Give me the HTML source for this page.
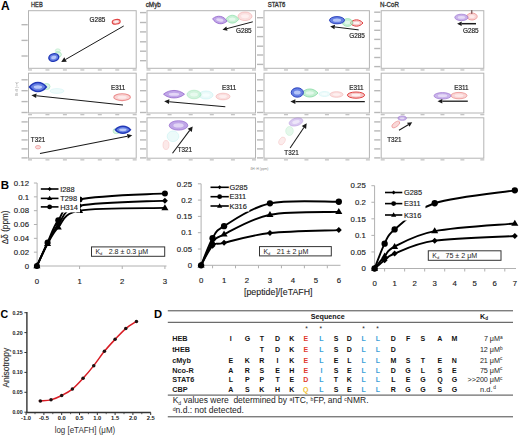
<!DOCTYPE html>
<html><head><meta charset="utf-8"><style>
html,body{margin:0;padding:0;background:#fff;}
body{width:520px;height:436px;overflow:hidden;font-family:"Liberation Sans",sans-serif;}
svg{display:block;}
</style></head><body>
<svg width="520" height="436" viewBox="0 0 520 436" font-family="Liberation Sans, sans-serif"><defs><filter id="bl" x="-10%" y="-10%" width="120%" height="120%"><feGaussianBlur stdDeviation="0.35"/></filter></defs><text x="0.90" y="10.20" font-size="12" fill="#000" font-weight="bold" text-anchor="start" >A</text>
<text x="31.00" y="7.00" font-size="6.6" fill="#333" font-weight="normal" text-anchor="start" stroke="#333" stroke-width="0.3" textLength="11.7" lengthAdjust="spacingAndGlyphs">HEB</text>
<text x="145.70" y="7.00" font-size="6.6" fill="#333" font-weight="normal" text-anchor="start" stroke="#333" stroke-width="0.3" textLength="15.2" lengthAdjust="spacingAndGlyphs">cMyb</text>
<text x="267.70" y="7.00" font-size="6.6" fill="#333" font-weight="normal" text-anchor="start" stroke="#333" stroke-width="0.3" textLength="17.7" lengthAdjust="spacingAndGlyphs">STAT6</text>
<text x="380.00" y="7.00" font-size="6.6" fill="#333" font-weight="normal" text-anchor="start" stroke="#333" stroke-width="0.3" textLength="19.0" lengthAdjust="spacingAndGlyphs">N-CoR</text>
<rect x="28.50" y="10.70" width="107.70" height="57.60" fill="#fff" stroke="#b4b4b4" stroke-width="1"/>
<rect x="21.50" y="24.00" width="6.2" height="1.4" fill="#b8b8b8"/>
<rect x="21.50" y="39.70" width="6.2" height="1.4" fill="#b8b8b8"/>
<rect x="21.50" y="55.30" width="6.2" height="1.4" fill="#b8b8b8"/>
<rect x="28.00" y="69.30" width="4" height="1.3" fill="#c4c4c4"/>
<rect x="45.45" y="69.30" width="4" height="1.3" fill="#c4c4c4"/>
<rect x="62.90" y="69.30" width="4" height="1.3" fill="#c4c4c4"/>
<rect x="80.35" y="69.30" width="4" height="1.3" fill="#c4c4c4"/>
<rect x="97.80" y="69.30" width="4" height="1.3" fill="#c4c4c4"/>
<rect x="115.25" y="69.30" width="4" height="1.3" fill="#c4c4c4"/>
<rect x="132.70" y="69.30" width="4" height="1.3" fill="#c4c4c4"/>
<rect x="28.50" y="73.20" width="107.70" height="39.80" fill="#fff" stroke="#b4b4b4" stroke-width="1"/>
<rect x="21.50" y="79.10" width="6.2" height="1.4" fill="#b8b8b8"/>
<rect x="21.50" y="90.00" width="6.2" height="1.4" fill="#b8b8b8"/>
<rect x="21.50" y="100.90" width="6.2" height="1.4" fill="#b8b8b8"/>
<rect x="21.50" y="111.80" width="6.2" height="1.4" fill="#b8b8b8"/>
<rect x="28.00" y="114.00" width="4" height="1.3" fill="#c4c4c4"/>
<rect x="45.45" y="114.00" width="4" height="1.3" fill="#c4c4c4"/>
<rect x="62.90" y="114.00" width="4" height="1.3" fill="#c4c4c4"/>
<rect x="80.35" y="114.00" width="4" height="1.3" fill="#c4c4c4"/>
<rect x="97.80" y="114.00" width="4" height="1.3" fill="#c4c4c4"/>
<rect x="115.25" y="114.00" width="4" height="1.3" fill="#c4c4c4"/>
<rect x="132.70" y="114.00" width="4" height="1.3" fill="#c4c4c4"/>
<rect x="28.50" y="117.80" width="107.70" height="40.40" fill="#fff" stroke="#b4b4b4" stroke-width="1"/>
<rect x="21.50" y="121.20" width="6.2" height="1.4" fill="#b8b8b8"/>
<rect x="21.50" y="130.20" width="6.2" height="1.4" fill="#b8b8b8"/>
<rect x="21.50" y="139.20" width="6.2" height="1.4" fill="#b8b8b8"/>
<rect x="21.50" y="148.20" width="6.2" height="1.4" fill="#b8b8b8"/>
<rect x="21.50" y="157.20" width="6.2" height="1.4" fill="#b8b8b8"/>
<rect x="28.00" y="159.20" width="4" height="1.3" fill="#c4c4c4"/>
<rect x="45.45" y="159.20" width="4" height="1.3" fill="#c4c4c4"/>
<rect x="62.90" y="159.20" width="4" height="1.3" fill="#c4c4c4"/>
<rect x="80.35" y="159.20" width="4" height="1.3" fill="#c4c4c4"/>
<rect x="97.80" y="159.20" width="4" height="1.3" fill="#c4c4c4"/>
<rect x="115.25" y="159.20" width="4" height="1.3" fill="#c4c4c4"/>
<rect x="132.70" y="159.20" width="4" height="1.3" fill="#c4c4c4"/>
<rect x="147.00" y="10.70" width="108.50" height="57.60" fill="#fff" stroke="#b4b4b4" stroke-width="1"/>
<rect x="140.00" y="11.90" width="6.2" height="1.4" fill="#b8b8b8"/>
<rect x="140.00" y="21.80" width="6.2" height="1.4" fill="#b8b8b8"/>
<rect x="140.00" y="31.20" width="6.2" height="1.4" fill="#b8b8b8"/>
<rect x="140.00" y="41.10" width="6.2" height="1.4" fill="#b8b8b8"/>
<rect x="140.00" y="50.50" width="6.2" height="1.4" fill="#b8b8b8"/>
<rect x="140.00" y="60.00" width="6.2" height="1.4" fill="#b8b8b8"/>
<rect x="146.50" y="69.30" width="4" height="1.3" fill="#c4c4c4"/>
<rect x="167.60" y="69.30" width="4" height="1.3" fill="#c4c4c4"/>
<rect x="188.70" y="69.30" width="4" height="1.3" fill="#c4c4c4"/>
<rect x="209.80" y="69.30" width="4" height="1.3" fill="#c4c4c4"/>
<rect x="230.90" y="69.30" width="4" height="1.3" fill="#c4c4c4"/>
<rect x="252.00" y="69.30" width="4" height="1.3" fill="#c4c4c4"/>
<rect x="147.00" y="73.20" width="108.50" height="39.80" fill="#fff" stroke="#b4b4b4" stroke-width="1"/>
<rect x="140.00" y="79.10" width="6.2" height="1.4" fill="#b8b8b8"/>
<rect x="140.00" y="90.00" width="6.2" height="1.4" fill="#b8b8b8"/>
<rect x="140.00" y="100.90" width="6.2" height="1.4" fill="#b8b8b8"/>
<rect x="140.00" y="111.80" width="6.2" height="1.4" fill="#b8b8b8"/>
<rect x="146.50" y="114.00" width="4" height="1.3" fill="#c4c4c4"/>
<rect x="167.60" y="114.00" width="4" height="1.3" fill="#c4c4c4"/>
<rect x="188.70" y="114.00" width="4" height="1.3" fill="#c4c4c4"/>
<rect x="209.80" y="114.00" width="4" height="1.3" fill="#c4c4c4"/>
<rect x="230.90" y="114.00" width="4" height="1.3" fill="#c4c4c4"/>
<rect x="252.00" y="114.00" width="4" height="1.3" fill="#c4c4c4"/>
<rect x="147.00" y="117.80" width="108.50" height="40.40" fill="#fff" stroke="#b4b4b4" stroke-width="1"/>
<rect x="140.00" y="121.20" width="6.2" height="1.4" fill="#b8b8b8"/>
<rect x="140.00" y="130.20" width="6.2" height="1.4" fill="#b8b8b8"/>
<rect x="140.00" y="139.20" width="6.2" height="1.4" fill="#b8b8b8"/>
<rect x="140.00" y="148.20" width="6.2" height="1.4" fill="#b8b8b8"/>
<rect x="140.00" y="157.20" width="6.2" height="1.4" fill="#b8b8b8"/>
<rect x="146.50" y="159.20" width="4" height="1.3" fill="#c4c4c4"/>
<rect x="167.60" y="159.20" width="4" height="1.3" fill="#c4c4c4"/>
<rect x="188.70" y="159.20" width="4" height="1.3" fill="#c4c4c4"/>
<rect x="209.80" y="159.20" width="4" height="1.3" fill="#c4c4c4"/>
<rect x="230.90" y="159.20" width="4" height="1.3" fill="#c4c4c4"/>
<rect x="252.00" y="159.20" width="4" height="1.3" fill="#c4c4c4"/>
<rect x="264.00" y="10.70" width="105.40" height="57.60" fill="#fff" stroke="#b4b4b4" stroke-width="1"/>
<rect x="257.00" y="17.00" width="6.2" height="1.4" fill="#b8b8b8"/>
<rect x="257.00" y="26.60" width="6.2" height="1.4" fill="#b8b8b8"/>
<rect x="257.00" y="35.90" width="6.2" height="1.4" fill="#b8b8b8"/>
<rect x="257.00" y="45.50" width="6.2" height="1.4" fill="#b8b8b8"/>
<rect x="257.00" y="54.30" width="6.2" height="1.4" fill="#b8b8b8"/>
<rect x="257.00" y="63.70" width="6.2" height="1.4" fill="#b8b8b8"/>
<rect x="263.50" y="69.30" width="4" height="1.3" fill="#c4c4c4"/>
<rect x="283.98" y="69.30" width="4" height="1.3" fill="#c4c4c4"/>
<rect x="304.46" y="69.30" width="4" height="1.3" fill="#c4c4c4"/>
<rect x="324.94" y="69.30" width="4" height="1.3" fill="#c4c4c4"/>
<rect x="345.42" y="69.30" width="4" height="1.3" fill="#c4c4c4"/>
<rect x="365.90" y="69.30" width="4" height="1.3" fill="#c4c4c4"/>
<rect x="264.00" y="73.20" width="105.40" height="39.80" fill="#fff" stroke="#b4b4b4" stroke-width="1"/>
<rect x="257.00" y="79.10" width="6.2" height="1.4" fill="#b8b8b8"/>
<rect x="257.00" y="90.00" width="6.2" height="1.4" fill="#b8b8b8"/>
<rect x="257.00" y="100.90" width="6.2" height="1.4" fill="#b8b8b8"/>
<rect x="257.00" y="111.80" width="6.2" height="1.4" fill="#b8b8b8"/>
<rect x="263.50" y="114.00" width="4" height="1.3" fill="#c4c4c4"/>
<rect x="283.98" y="114.00" width="4" height="1.3" fill="#c4c4c4"/>
<rect x="304.46" y="114.00" width="4" height="1.3" fill="#c4c4c4"/>
<rect x="324.94" y="114.00" width="4" height="1.3" fill="#c4c4c4"/>
<rect x="345.42" y="114.00" width="4" height="1.3" fill="#c4c4c4"/>
<rect x="365.90" y="114.00" width="4" height="1.3" fill="#c4c4c4"/>
<rect x="264.00" y="117.80" width="105.40" height="40.40" fill="#fff" stroke="#b4b4b4" stroke-width="1"/>
<rect x="257.00" y="121.20" width="6.2" height="1.4" fill="#b8b8b8"/>
<rect x="257.00" y="130.20" width="6.2" height="1.4" fill="#b8b8b8"/>
<rect x="257.00" y="139.20" width="6.2" height="1.4" fill="#b8b8b8"/>
<rect x="257.00" y="148.20" width="6.2" height="1.4" fill="#b8b8b8"/>
<rect x="257.00" y="157.20" width="6.2" height="1.4" fill="#b8b8b8"/>
<rect x="263.50" y="159.20" width="4" height="1.3" fill="#c4c4c4"/>
<rect x="283.98" y="159.20" width="4" height="1.3" fill="#c4c4c4"/>
<rect x="304.46" y="159.20" width="4" height="1.3" fill="#c4c4c4"/>
<rect x="324.94" y="159.20" width="4" height="1.3" fill="#c4c4c4"/>
<rect x="345.42" y="159.20" width="4" height="1.3" fill="#c4c4c4"/>
<rect x="365.90" y="159.20" width="4" height="1.3" fill="#c4c4c4"/>
<rect x="381.20" y="10.70" width="102.60" height="57.60" fill="#fff" stroke="#b4b4b4" stroke-width="1"/>
<rect x="374.20" y="11.50" width="6.2" height="1.4" fill="#b8b8b8"/>
<rect x="374.20" y="20.60" width="6.2" height="1.4" fill="#b8b8b8"/>
<rect x="374.20" y="29.60" width="6.2" height="1.4" fill="#b8b8b8"/>
<rect x="374.20" y="38.70" width="6.2" height="1.4" fill="#b8b8b8"/>
<rect x="374.20" y="47.80" width="6.2" height="1.4" fill="#b8b8b8"/>
<rect x="374.20" y="56.80" width="6.2" height="1.4" fill="#b8b8b8"/>
<rect x="374.20" y="65.90" width="6.2" height="1.4" fill="#b8b8b8"/>
<rect x="380.70" y="69.30" width="4" height="1.3" fill="#c4c4c4"/>
<rect x="400.62" y="69.30" width="4" height="1.3" fill="#c4c4c4"/>
<rect x="420.54" y="69.30" width="4" height="1.3" fill="#c4c4c4"/>
<rect x="440.46" y="69.30" width="4" height="1.3" fill="#c4c4c4"/>
<rect x="460.38" y="69.30" width="4" height="1.3" fill="#c4c4c4"/>
<rect x="480.30" y="69.30" width="4" height="1.3" fill="#c4c4c4"/>
<rect x="381.20" y="73.20" width="102.60" height="39.80" fill="#fff" stroke="#b4b4b4" stroke-width="1"/>
<rect x="374.20" y="79.10" width="6.2" height="1.4" fill="#b8b8b8"/>
<rect x="374.20" y="90.00" width="6.2" height="1.4" fill="#b8b8b8"/>
<rect x="374.20" y="100.90" width="6.2" height="1.4" fill="#b8b8b8"/>
<rect x="374.20" y="111.80" width="6.2" height="1.4" fill="#b8b8b8"/>
<rect x="380.70" y="114.00" width="4" height="1.3" fill="#c4c4c4"/>
<rect x="400.62" y="114.00" width="4" height="1.3" fill="#c4c4c4"/>
<rect x="420.54" y="114.00" width="4" height="1.3" fill="#c4c4c4"/>
<rect x="440.46" y="114.00" width="4" height="1.3" fill="#c4c4c4"/>
<rect x="460.38" y="114.00" width="4" height="1.3" fill="#c4c4c4"/>
<rect x="480.30" y="114.00" width="4" height="1.3" fill="#c4c4c4"/>
<rect x="381.20" y="117.80" width="102.60" height="40.40" fill="#fff" stroke="#b4b4b4" stroke-width="1"/>
<rect x="374.20" y="121.20" width="6.2" height="1.4" fill="#b8b8b8"/>
<rect x="374.20" y="130.20" width="6.2" height="1.4" fill="#b8b8b8"/>
<rect x="374.20" y="139.20" width="6.2" height="1.4" fill="#b8b8b8"/>
<rect x="374.20" y="148.20" width="6.2" height="1.4" fill="#b8b8b8"/>
<rect x="374.20" y="157.20" width="6.2" height="1.4" fill="#b8b8b8"/>
<rect x="380.70" y="159.20" width="4" height="1.3" fill="#c4c4c4"/>
<rect x="400.62" y="159.20" width="4" height="1.3" fill="#c4c4c4"/>
<rect x="420.54" y="159.20" width="4" height="1.3" fill="#c4c4c4"/>
<rect x="440.46" y="159.20" width="4" height="1.3" fill="#c4c4c4"/>
<rect x="460.38" y="159.20" width="4" height="1.3" fill="#c4c4c4"/>
<rect x="480.30" y="159.20" width="4" height="1.3" fill="#c4c4c4"/>
<g filter="url(#bl)">
<g opacity="0.35">
<ellipse cx="57.80" cy="50.50" rx="2.50" ry="1.60" fill="#b4ecc6" stroke="#58cc80" stroke-width="0.9"/>
</g>
<g opacity="0.45">
<ellipse cx="57.80" cy="54.50" rx="3.60" ry="2.60" fill="#b4ecc6" stroke="#58cc80" stroke-width="0.9"/>
</g>
<g opacity="1.0" transform="rotate(-12 53.80 57.50)">
<ellipse cx="53.80" cy="57.50" rx="5.00" ry="3.70" fill="#6680e4" stroke="#2038b8" stroke-width="1.4"/>
<ellipse cx="53.80" cy="57.50" rx="2.75" ry="1.67" fill="#d0dcff" opacity="0.75"/>
</g>
<g opacity="1.0" transform="rotate(-8 116.20 21.80)">
<ellipse cx="116.20" cy="21.80" rx="4.00" ry="2.30" fill="#f6c4c4" stroke="#e04444" stroke-width="1.1"/>
<ellipse cx="116.20" cy="21.80" rx="2.20" ry="1.03" fill="#ffffff" opacity="0.75"/>
</g>
<g opacity="0.45">
<ellipse cx="57.00" cy="91.00" rx="7.00" ry="2.40" fill="#dcf6f6" stroke="#90e4e4" stroke-width="0.5"/>
</g>
<g opacity="0.45">
<ellipse cx="46.50" cy="86.50" rx="3.50" ry="3.00" fill="#b4ecc6" stroke="#58cc80" stroke-width="0.9"/>
</g>
<g opacity="1.0"><path d="M29.50,87.00 C34.12,81.00 41.68,81.00 46.30,87.00 C41.68,93.00 34.12,93.00 29.50,87.00Z" fill="#6680e4" stroke="#2038b8" stroke-width="1.6"/>
<ellipse cx="37.90" cy="87.00" rx="4.20" ry="1.82" fill="#d0dcff" opacity="0.8"/>
</g>
<g opacity="1.0">
<ellipse cx="122.10" cy="97.20" rx="8.30" ry="3.40" fill="#f9d4d4" stroke="#ec9090" stroke-width="1.1"/>
<ellipse cx="122.10" cy="97.20" rx="4.57" ry="1.53" fill="#fff2f2" opacity="0.75"/>
</g>
<g opacity="0.8">
<ellipse cx="38.00" cy="147.20" rx="2.60" ry="1.70" fill="#f9d4d4" stroke="#ec9090" stroke-width="0.9"/>
</g>
<g opacity="0.45">
<ellipse cx="116.50" cy="131.00" rx="3.50" ry="2.60" fill="#b4ecc6" stroke="#58cc80" stroke-width="0.9"/>
</g>
<g opacity="1.0"><path d="M115.40,129.80 C119.53,125.18 126.28,125.18 130.40,129.80 C126.28,134.43 119.53,134.43 115.40,129.80Z" fill="#6680e4" stroke="#2038b8" stroke-width="1.5"/>
<ellipse cx="122.90" cy="129.80" rx="3.75" ry="1.41" fill="#d0dcff" opacity="0.8"/>
</g>
<g opacity="0.75">
<ellipse cx="245.00" cy="16.30" rx="7.00" ry="4.30" fill="#f9d4d4" stroke="#ec9090" stroke-width="0.6"/>
<ellipse cx="245.00" cy="16.30" rx="3.85" ry="1.94" fill="#fff2f2" opacity="0.75"/>
</g>
<g opacity="0.75"><path d="M225.80,19.20 C229.38,13.95 235.23,13.95 238.80,19.20 C235.23,24.45 229.38,24.45 225.80,19.20Z" fill="#b4ecc6" stroke="#58cc80" stroke-width="0.6"/>
<ellipse cx="232.30" cy="19.20" rx="3.25" ry="1.60" fill="#e6fbee" opacity="0.8"/>
</g>
<g opacity="1.0" transform="rotate(10 219.80 20.00)"><path d="M212.50,20.00 C216.52,15.12 223.09,15.12 227.10,20.00 C223.09,24.88 216.52,24.88 212.50,20.00Z" fill="#c0a6e8" stroke="#9468cc" stroke-width="0.8"/>
<ellipse cx="219.80" cy="20.00" rx="3.65" ry="1.48" fill="#ece4fa" opacity="0.8"/>
</g>
<g opacity="0.75">
<ellipse cx="223.00" cy="96.50" rx="7.00" ry="3.30" fill="#f9d4d4" stroke="#ec9090" stroke-width="0.6"/>
<ellipse cx="223.00" cy="96.50" rx="3.85" ry="1.48" fill="#fff2f2" opacity="0.75"/>
</g>
<g opacity="0.6">
<ellipse cx="206.00" cy="95.00" rx="7.00" ry="4.00" fill="#dcf6f6" stroke="#90e4e4" stroke-width="0.5"/>
<ellipse cx="206.00" cy="95.00" rx="3.85" ry="1.80" fill="#f4ffff" opacity="0.75"/>
</g>
<g opacity="0.6">
<ellipse cx="194.00" cy="94.50" rx="7.00" ry="4.30" fill="#b4ecc6" stroke="#58cc80" stroke-width="0.5"/>
<ellipse cx="194.00" cy="94.50" rx="3.85" ry="1.94" fill="#e6fbee" opacity="0.75"/>
</g>
<g opacity="1.0"><path d="M163.50,94.20 C169.28,89.20 178.72,89.20 184.50,94.20 C178.72,99.20 169.28,99.20 163.50,94.20Z" fill="#c0a6e8" stroke="#9468cc" stroke-width="0.8"/>
<ellipse cx="174.00" cy="94.20" rx="5.25" ry="1.52" fill="#ece4fa" opacity="0.8"/>
</g>
<g opacity="0.5">
<ellipse cx="166.00" cy="145.00" rx="3.00" ry="4.50" fill="#f9d4d4" stroke="#ec9090" stroke-width="0.6"/>
</g>
<g opacity="0.55">
<ellipse cx="173.00" cy="136.30" rx="5.80" ry="5.30" fill="#dcf6f6" stroke="#90e4e4" stroke-width="0.5"/>
</g>
<g opacity="1.0">
<ellipse cx="178.50" cy="125.40" rx="9.30" ry="4.70" fill="#c0a6e8" stroke="#9468cc" stroke-width="0.7"/>
<ellipse cx="178.50" cy="125.40" rx="5.12" ry="2.12" fill="#ece4fa" opacity="0.75"/>
</g>
<g opacity="1.0"><path d="M350.00,23.00 C353.57,18.75 359.43,18.75 363.00,23.00 C359.43,27.25 353.57,27.25 350.00,23.00Z" fill="#f6c4c4" stroke="#e04444" stroke-width="1.0"/>
<ellipse cx="356.50" cy="23.00" rx="3.25" ry="1.29" fill="#ffffff" opacity="0.8"/>
</g>
<g opacity="0.75">
<ellipse cx="347.50" cy="22.50" rx="5.20" ry="3.90" fill="#b4ecc6" stroke="#58cc80" stroke-width="0.6"/>
<ellipse cx="347.50" cy="22.50" rx="2.86" ry="1.75" fill="#e6fbee" opacity="0.75"/>
</g>
<g opacity="1.0">
<ellipse cx="337.00" cy="20.20" rx="7.50" ry="3.60" fill="#6680e4" stroke="#2038b8" stroke-width="0.9"/>
<ellipse cx="337.00" cy="20.20" rx="4.12" ry="1.62" fill="#d0dcff" opacity="0.75"/>
</g>
<g opacity="1.0">
<ellipse cx="356.00" cy="95.10" rx="8.60" ry="3.10" fill="#f6c4c4" stroke="#e04444" stroke-width="1.0"/>
<ellipse cx="356.00" cy="95.10" rx="4.73" ry="1.40" fill="#ffffff" opacity="0.75"/>
</g>
<g opacity="0.7">
<ellipse cx="336.50" cy="94.50" rx="6.50" ry="2.80" fill="#f9d4d4" stroke="#ec9090" stroke-width="0.6"/>
<ellipse cx="336.50" cy="94.50" rx="3.58" ry="1.26" fill="#fff2f2" opacity="0.75"/>
</g>
<g opacity="0.5">
<ellipse cx="324.50" cy="94.00" rx="5.50" ry="2.50" fill="#dcf6f6" stroke="#90e4e4" stroke-width="0.5"/>
<ellipse cx="324.50" cy="94.00" rx="3.03" ry="1.12" fill="#f4ffff" opacity="0.75"/>
</g>
<g opacity="0.8"><path d="M301.60,93.00 C306.11,87.62 313.49,87.62 318.00,93.00 C313.49,98.38 306.11,98.38 301.60,93.00Z" fill="#b4ecc6" stroke="#58cc80" stroke-width="0.7"/>
<ellipse cx="309.80" cy="93.00" rx="4.10" ry="1.63" fill="#e6fbee" opacity="0.8"/>
</g>
<g opacity="1.0">
<ellipse cx="297.30" cy="92.50" rx="6.10" ry="4.70" fill="#6680e4" stroke="#2038b8" stroke-width="0.9"/>
<ellipse cx="297.30" cy="92.50" rx="3.35" ry="2.12" fill="#d0dcff" opacity="0.75"/>
</g>
<g opacity="0.45" transform="rotate(30 282.00 141.00)">
<ellipse cx="282.00" cy="141.00" rx="2.80" ry="4.20" fill="#f9d4d4" stroke="#ec9090" stroke-width="0.6"/>
</g>
<g opacity="0.35">
<ellipse cx="289.50" cy="131.00" rx="3.80" ry="4.50" fill="#b4ecc6" stroke="#58cc80" stroke-width="0.5"/>
</g>
<g opacity="0.6" transform="rotate(-15 296.00 122.00)">
<ellipse cx="296.00" cy="122.00" rx="7.00" ry="3.80" fill="#c0a6e8" stroke="#9468cc" stroke-width="0.6"/>
<ellipse cx="296.00" cy="122.00" rx="3.85" ry="1.71" fill="#ece4fa" opacity="0.75"/>
</g>
<g opacity="1.0">
<ellipse cx="472.00" cy="16.50" rx="5.20" ry="3.50" fill="#f9d4d4" stroke="#ec9090" stroke-width="0.8"/>
<ellipse cx="472.00" cy="16.50" rx="2.86" ry="1.57" fill="#fff2f2" opacity="0.75"/>
</g>
<g opacity="0.85">
<ellipse cx="461.40" cy="17.40" rx="6.60" ry="3.20" fill="#c0a6e8" stroke="#9468cc" stroke-width="0.8"/>
<ellipse cx="461.40" cy="17.40" rx="3.63" ry="1.44" fill="#ece4fa" opacity="0.75"/>
</g>
<g opacity="1.0">
<ellipse cx="459.00" cy="95.60" rx="8.00" ry="3.20" fill="#f9d4d4" stroke="#ec9090" stroke-width="0.8"/>
<ellipse cx="459.00" cy="95.60" rx="4.40" ry="1.44" fill="#fff2f2" opacity="0.75"/>
</g>
<g opacity="0.85">
<ellipse cx="442.50" cy="95.80" rx="8.50" ry="3.20" fill="#c0a6e8" stroke="#9468cc" stroke-width="0.8"/>
<ellipse cx="442.50" cy="95.80" rx="4.68" ry="1.44" fill="#ece4fa" opacity="0.75"/>
</g>
<g opacity="0.8">
<ellipse cx="402.20" cy="118.20" rx="4.20" ry="2.10" fill="#c0a6e8" stroke="#9468cc" stroke-width="0.7"/>
<ellipse cx="402.20" cy="118.20" rx="2.31" ry="0.95" fill="#ece4fa" opacity="0.75"/>
</g>
<g opacity="0.9" transform="rotate(-35 395.80 124.50)">
<ellipse cx="395.80" cy="124.50" rx="4.60" ry="2.20" fill="#f9d4d4" stroke="#ec9090" stroke-width="0.8"/>
</g>
</g>
<line x1="471.80" y1="10.20" x2="471.80" y2="13.80" stroke="#603030" stroke-width="1" />
<line x1="123.70" y1="26.00" x2="65.53" y2="59.50" stroke="#1a1a1a" stroke-width="1.0" />
<polygon points="61.20,62.00 64.28,57.34 66.78,61.67" fill="#1a1a1a"/>
<text x="89.60" y="21.60" font-size="7.2" fill="#262626" font-weight="normal" text-anchor="start" stroke="#262626" stroke-width="0.2" textLength="15.7" lengthAdjust="spacingAndGlyphs">G285</text>
<line x1="123.00" y1="105.00" x2="36.37" y2="95.83" stroke="#1a1a1a" stroke-width="1.05" />
<polygon points="31.40,95.30 36.61,93.54 36.13,98.11" fill="#1a1a1a"/>
<text x="111.00" y="90.40" font-size="7.2" fill="#262626" font-weight="normal" text-anchor="start" stroke="#262626" stroke-width="0.2" textLength="14.4" lengthAdjust="spacingAndGlyphs">E311</text>
<line x1="40.00" y1="153.40" x2="127.39" y2="136.26" stroke="#1a1a1a" stroke-width="1.05" />
<polygon points="132.30,135.30 127.86,138.62 126.93,133.91" fill="#1a1a1a"/>
<text x="30.80" y="142.20" font-size="7.2" fill="#262626" font-weight="normal" text-anchor="start" stroke="#262626" stroke-width="0.2" textLength="14.4" lengthAdjust="spacingAndGlyphs">T321</text>
<line x1="252.80" y1="21.80" x2="226.95" y2="28.63" stroke="#1a1a1a" stroke-width="1.0" />
<polygon points="222.50,29.80 226.36,26.40 227.53,30.85" fill="#1a1a1a"/>
<text x="236.00" y="33.20" font-size="7.2" fill="#262626" font-weight="normal" text-anchor="start" stroke="#262626" stroke-width="0.2" textLength="15.7" lengthAdjust="spacingAndGlyphs">G285</text>
<line x1="225.30" y1="106.70" x2="169.18" y2="101.65" stroke="#1a1a1a" stroke-width="1.05" />
<polygon points="164.20,101.20 169.40,99.26 168.96,104.04" fill="#1a1a1a"/>
<text x="222.00" y="90.20" font-size="7.2" fill="#262626" font-weight="normal" text-anchor="start" stroke="#262626" stroke-width="0.2" textLength="14.4" lengthAdjust="spacingAndGlyphs">E311</text>
<line x1="172.50" y1="153.20" x2="189.69" y2="130.39" stroke="#1a1a1a" stroke-width="1.05" />
<polygon points="192.70,126.40 191.77,131.96 187.61,128.83" fill="#1a1a1a"/>
<text x="177.70" y="151.80" font-size="7.2" fill="#262626" font-weight="normal" text-anchor="start" stroke="#262626" stroke-width="0.2" textLength="14.4" lengthAdjust="spacingAndGlyphs">T321</text>
<line x1="358.70" y1="29.90" x2="334.77" y2="26.96" stroke="#1a1a1a" stroke-width="1.0" />
<polygon points="330.20,26.40 335.05,24.68 334.49,29.24" fill="#1a1a1a"/>
<text x="349.20" y="37.80" font-size="7.2" fill="#262626" font-weight="normal" text-anchor="start" stroke="#262626" stroke-width="0.2" textLength="15.7" lengthAdjust="spacingAndGlyphs">G285</text>
<line x1="364.80" y1="101.60" x2="295.40" y2="101.60" stroke="#1a1a1a" stroke-width="1.05" />
<polygon points="290.40,101.60 295.40,99.20 295.40,104.00" fill="#1a1a1a"/>
<text x="349.20" y="89.60" font-size="7.2" fill="#262626" font-weight="normal" text-anchor="start" stroke="#262626" stroke-width="0.2" textLength="14.4" lengthAdjust="spacingAndGlyphs">E311</text>
<line x1="290.10" y1="148.00" x2="303.91" y2="127.45" stroke="#1a1a1a" stroke-width="1.05" />
<polygon points="306.70,123.30 306.07,128.90 301.75,126.00" fill="#1a1a1a"/>
<text x="284.30" y="154.90" font-size="7.2" fill="#262626" font-weight="normal" text-anchor="start" stroke="#262626" stroke-width="0.2" textLength="14.4" lengthAdjust="spacingAndGlyphs">T321</text>
<line x1="476.00" y1="23.70" x2="461.70" y2="23.70" stroke="#1a1a1a" stroke-width="1.5" />
<polygon points="457.10,23.70 461.70,21.40 461.70,26.00" fill="#1a1a1a"/>
<text x="463.00" y="32.70" font-size="7.2" fill="#262626" font-weight="normal" text-anchor="start" stroke="#262626" stroke-width="0.2" textLength="15.7" lengthAdjust="spacingAndGlyphs">G285</text>
<line x1="467.80" y1="101.20" x2="442.30" y2="101.20" stroke="#1a1a1a" stroke-width="1.3" />
<polygon points="437.50,101.20 442.30,98.90 442.30,103.50" fill="#1a1a1a"/>
<text x="454.20" y="90.30" font-size="7.2" fill="#262626" font-weight="normal" text-anchor="start" stroke="#262626" stroke-width="0.2" textLength="14.4" lengthAdjust="spacingAndGlyphs">E311</text>
<line x1="399.00" y1="130.30" x2="408.27" y2="124.68" stroke="#1a1a1a" stroke-width="1.05" />
<polygon points="412.20,122.30 409.51,126.74 407.02,122.63" fill="#1a1a1a"/>
<text x="387.20" y="142.10" font-size="7.2" fill="#262626" font-weight="normal" text-anchor="start" stroke="#262626" stroke-width="0.2" textLength="14.4" lengthAdjust="spacingAndGlyphs">T321</text>
<text x="17.80" y="96.00" font-size="2.7" fill="#888" font-weight="normal" text-anchor="start" transform="rotate(-90 17.8 96)" textLength="14" lengthAdjust="spacingAndGlyphs">δN ¹⁵N (ppm)</text>
<text x="250.40" y="169.80" font-size="2.7" fill="#888" font-weight="normal" text-anchor="start" textLength="18" lengthAdjust="spacingAndGlyphs">δH ¹H (ppm)</text>
<text x="0.80" y="188.80" font-size="11.5" fill="#000" font-weight="bold" text-anchor="start" >B</text>
<line x1="37.10" y1="183.02" x2="37.10" y2="266.00" stroke="#b0b0b0" stroke-width="1" />
<line x1="37.10" y1="266.00" x2="166.50" y2="266.00" stroke="#b0b0b0" stroke-width="1" />
<line x1="33.90" y1="266.00" x2="37.10" y2="266.00" stroke="#b0b0b0" stroke-width="1" />
<text x="29.00" y="268.70" font-size="7.8" fill="#222" font-weight="normal" text-anchor="end" stroke="#222" stroke-width="0.15">0</text>
<line x1="33.90" y1="252.17" x2="37.10" y2="252.17" stroke="#b0b0b0" stroke-width="1" />
<text x="29.00" y="254.87" font-size="7.8" fill="#222" font-weight="normal" text-anchor="end" stroke="#222" stroke-width="0.15">0.02</text>
<line x1="33.90" y1="238.34" x2="37.10" y2="238.34" stroke="#b0b0b0" stroke-width="1" />
<text x="29.00" y="241.04" font-size="7.8" fill="#222" font-weight="normal" text-anchor="end" stroke="#222" stroke-width="0.15">0.04</text>
<line x1="33.90" y1="224.51" x2="37.10" y2="224.51" stroke="#b0b0b0" stroke-width="1" />
<text x="29.00" y="227.21" font-size="7.8" fill="#222" font-weight="normal" text-anchor="end" stroke="#222" stroke-width="0.15">0.06</text>
<line x1="33.90" y1="210.68" x2="37.10" y2="210.68" stroke="#b0b0b0" stroke-width="1" />
<text x="29.00" y="213.38" font-size="7.8" fill="#222" font-weight="normal" text-anchor="end" stroke="#222" stroke-width="0.15">0.08</text>
<line x1="33.90" y1="196.85" x2="37.10" y2="196.85" stroke="#b0b0b0" stroke-width="1" />
<text x="29.00" y="199.55" font-size="7.8" fill="#222" font-weight="normal" text-anchor="end" stroke="#222" stroke-width="0.15">0.1</text>
<line x1="33.90" y1="183.02" x2="37.10" y2="183.02" stroke="#b0b0b0" stroke-width="1" />
<text x="29.00" y="185.72" font-size="7.8" fill="#222" font-weight="normal" text-anchor="end" stroke="#222" stroke-width="0.15">0.12</text>
<text x="36.90" y="283.70" font-size="7.8" fill="#222" font-weight="normal" text-anchor="middle" stroke="#222" stroke-width="0.15">0</text>
<text x="79.57" y="283.70" font-size="7.8" fill="#222" font-weight="normal" text-anchor="middle" stroke="#222" stroke-width="0.15">1</text>
<text x="122.24" y="283.70" font-size="7.8" fill="#222" font-weight="normal" text-anchor="middle" stroke="#222" stroke-width="0.15">2</text>
<text x="164.91" y="283.70" font-size="7.8" fill="#222" font-weight="normal" text-anchor="middle" stroke="#222" stroke-width="0.15">3</text>
<line x1="36.90" y1="266.00" x2="36.90" y2="269.00" stroke="#b0b0b0" stroke-width="1" />
<line x1="79.57" y1="266.00" x2="79.57" y2="269.00" stroke="#b0b0b0" stroke-width="1" />
<line x1="122.24" y1="266.00" x2="122.24" y2="269.00" stroke="#b0b0b0" stroke-width="1" />
<line x1="164.91" y1="266.00" x2="164.91" y2="269.00" stroke="#b0b0b0" stroke-width="1" />
<path d="M36.90,266.00 C38.68,262.20 44.01,250.10 47.57,243.18 C51.12,236.27 52.90,230.73 58.23,224.51 C63.57,218.29 61.79,209.82 79.57,205.84 C97.35,201.86 150.69,201.52 164.91,200.65" fill="none" stroke="#000" stroke-width="1.9"/>
<path d="M36.90,266.00 C38.68,262.31 44.01,250.33 47.57,243.87 C51.12,237.42 52.90,232.81 58.23,227.28 C63.57,221.74 61.79,213.91 79.57,210.68 C97.35,207.45 150.69,208.38 164.91,207.91" fill="none" stroke="#000" stroke-width="1.9"/>
<path d="M36.90,266.00 C38.68,262.08 44.01,250.10 47.57,242.49 C51.12,234.88 52.90,227.51 58.23,220.36 C63.57,213.22 61.79,204.11 79.57,199.62 C97.35,195.12 150.69,194.43 164.91,193.39" fill="none" stroke="#000" stroke-width="1.9"/>
<polygon points="36.90,263.01 39.89,266.00 36.90,268.99 33.91,266.00" fill="#000"/>
<polygon points="47.57,240.19 50.56,243.18 47.57,246.17 44.58,243.18" fill="#000"/>
<polygon points="58.23,221.52 61.23,224.51 58.23,227.50 55.24,224.51" fill="#000"/>
<polygon points="79.57,202.85 82.56,205.84 79.57,208.83 76.58,205.84" fill="#000"/>
<polygon points="164.91,197.66 167.90,200.65 164.91,203.64 161.92,200.65" fill="#000"/>
<polygon points="36.90,262.26 40.45,268.24 33.35,268.24" fill="#000"/>
<polygon points="47.57,240.13 51.12,246.12 44.01,246.12" fill="#000"/>
<polygon points="58.23,223.54 61.79,229.52 54.68,229.52" fill="#000"/>
<polygon points="79.57,206.94 83.12,212.92 76.02,212.92" fill="#000"/>
<polygon points="164.91,204.17 168.46,210.16 161.36,210.16" fill="#000"/>
<circle cx="36.90" cy="266.00" r="3.00" fill="#000"/>
<circle cx="47.57" cy="242.49" r="3.00" fill="#000"/>
<circle cx="58.23" cy="220.36" r="3.00" fill="#000"/>
<circle cx="79.57" cy="199.62" r="3.00" fill="#000"/>
<circle cx="164.91" cy="193.39" r="3.00" fill="#000"/>
<rect x="39.80" y="183.50" width="40.20" height="28.90" fill="#fff"/>
<line x1="40.80" y1="189.00" x2="58.50" y2="189.00" stroke="#000" stroke-width="1.6" />
<polygon points="49.65,186.92 51.73,189.00 49.65,191.08 47.57,189.00" fill="#000"/>
<text x="60.20" y="191.60" font-size="7.4" fill="#222" font-weight="normal" text-anchor="start" stroke="#222" stroke-width="0.15">I288</text>
<line x1="40.80" y1="198.40" x2="58.50" y2="198.40" stroke="#000" stroke-width="1.6" />
<polygon points="49.65,195.68 52.23,200.03 47.07,200.03" fill="#000"/>
<text x="60.20" y="201.00" font-size="7.4" fill="#222" font-weight="normal" text-anchor="start" stroke="#222" stroke-width="0.15">T298</text>
<line x1="40.80" y1="206.90" x2="58.50" y2="206.90" stroke="#000" stroke-width="1.6" />
<circle cx="49.65" cy="206.90" r="2.40" fill="#000"/>
<text x="60.20" y="209.50" font-size="7.4" fill="#222" font-weight="normal" text-anchor="start" stroke="#222" stroke-width="0.15">H314</text>
<rect x="91.50" y="246.90" width="73.20" height="9.40" fill="#fff" stroke="#333" stroke-width="1"/>
<text x="95.50" y="253.90" font-size="6.9" fill="#222" font-weight="normal" text-anchor="start" >K<tspan font-size="4" dy="1.2">d</tspan></text>
<text x="108.70" y="253.90" font-size="7.1" fill="#222" font-weight="normal" text-anchor="start" >2.8 ± 0.3 μM</text>
<text x="8.40" y="244.20" font-size="8.3" fill="#222" font-weight="normal" text-anchor="start" transform="rotate(-90 8.4 244.2)" stroke="#222" stroke-width="0.12" textLength="33.8" lengthAdjust="spacingAndGlyphs">Δδ (ppm)</text>
<line x1="201.10" y1="183.80" x2="201.10" y2="265.30" stroke="#b0b0b0" stroke-width="1" />
<line x1="201.10" y1="265.30" x2="340.50" y2="265.30" stroke="#b0b0b0" stroke-width="1" />
<line x1="197.90" y1="265.30" x2="201.10" y2="265.30" stroke="#b0b0b0" stroke-width="1" />
<text x="192.00" y="268.00" font-size="7.8" fill="#222" font-weight="normal" text-anchor="end" stroke="#222" stroke-width="0.15">0</text>
<line x1="197.90" y1="249.00" x2="201.10" y2="249.00" stroke="#b0b0b0" stroke-width="1" />
<text x="192.00" y="251.70" font-size="7.8" fill="#222" font-weight="normal" text-anchor="end" stroke="#222" stroke-width="0.15">0.05</text>
<line x1="197.90" y1="232.70" x2="201.10" y2="232.70" stroke="#b0b0b0" stroke-width="1" />
<text x="192.00" y="235.40" font-size="7.8" fill="#222" font-weight="normal" text-anchor="end" stroke="#222" stroke-width="0.15">0.1</text>
<line x1="197.90" y1="216.40" x2="201.10" y2="216.40" stroke="#b0b0b0" stroke-width="1" />
<text x="192.00" y="219.10" font-size="7.8" fill="#222" font-weight="normal" text-anchor="end" stroke="#222" stroke-width="0.15">0.15</text>
<line x1="197.90" y1="200.10" x2="201.10" y2="200.10" stroke="#b0b0b0" stroke-width="1" />
<text x="192.00" y="202.80" font-size="7.8" fill="#222" font-weight="normal" text-anchor="end" stroke="#222" stroke-width="0.15">0.2</text>
<line x1="197.90" y1="183.80" x2="201.10" y2="183.80" stroke="#b0b0b0" stroke-width="1" />
<text x="192.00" y="186.50" font-size="7.8" fill="#222" font-weight="normal" text-anchor="end" stroke="#222" stroke-width="0.15">0.25</text>
<text x="201.10" y="283.00" font-size="7.8" fill="#222" font-weight="normal" text-anchor="middle" stroke="#222" stroke-width="0.15">0</text>
<text x="224.05" y="283.00" font-size="7.8" fill="#222" font-weight="normal" text-anchor="middle" stroke="#222" stroke-width="0.15">1</text>
<text x="247.00" y="283.00" font-size="7.8" fill="#222" font-weight="normal" text-anchor="middle" stroke="#222" stroke-width="0.15">2</text>
<text x="269.95" y="283.00" font-size="7.8" fill="#222" font-weight="normal" text-anchor="middle" stroke="#222" stroke-width="0.15">3</text>
<text x="292.90" y="283.00" font-size="7.8" fill="#222" font-weight="normal" text-anchor="middle" stroke="#222" stroke-width="0.15">4</text>
<text x="315.85" y="283.00" font-size="7.8" fill="#222" font-weight="normal" text-anchor="middle" stroke="#222" stroke-width="0.15">5</text>
<text x="338.80" y="283.00" font-size="7.8" fill="#222" font-weight="normal" text-anchor="middle" stroke="#222" stroke-width="0.15">6</text>
<line x1="212.57" y1="265.30" x2="212.57" y2="268.30" stroke="#b0b0b0" stroke-width="1" />
<line x1="235.52" y1="265.30" x2="235.52" y2="268.30" stroke="#b0b0b0" stroke-width="1" />
<line x1="258.48" y1="265.30" x2="258.48" y2="268.30" stroke="#b0b0b0" stroke-width="1" />
<line x1="281.43" y1="265.30" x2="281.43" y2="268.30" stroke="#b0b0b0" stroke-width="1" />
<line x1="304.38" y1="265.30" x2="304.38" y2="268.30" stroke="#b0b0b0" stroke-width="1" />
<line x1="327.32" y1="265.30" x2="327.32" y2="268.30" stroke="#b0b0b0" stroke-width="1" />
<path d="M201.10,265.30 C203.01,262.04 208.75,249.49 212.57,245.74 C216.40,241.99 214.49,244.93 224.05,242.81 C233.61,240.69 250.82,235.15 269.95,233.03 C289.07,230.91 327.32,230.58 338.80,230.09" fill="none" stroke="#000" stroke-width="1.9"/>
<path d="M201.10,265.30 C203.01,261.50 208.75,247.64 212.57,242.48 C216.40,237.32 214.49,238.95 224.05,234.33 C233.61,229.71 250.82,218.52 269.95,214.77 C289.07,211.02 327.32,212.33 338.80,211.84" fill="none" stroke="#000" stroke-width="1.9"/>
<path d="M201.10,265.30 C203.01,260.79 208.75,244.76 212.57,238.24 C216.40,231.72 214.49,231.99 224.05,226.18 C233.61,220.37 250.82,207.44 269.95,203.36 C289.07,199.29 327.32,202.00 338.80,201.73" fill="none" stroke="#000" stroke-width="1.9"/>
<polygon points="201.10,262.31 204.09,265.30 201.10,268.29 198.11,265.30" fill="#000"/>
<polygon points="212.57,242.75 215.56,245.74 212.57,248.73 209.58,245.74" fill="#000"/>
<polygon points="224.05,239.82 227.04,242.81 224.05,245.80 221.06,242.81" fill="#000"/>
<polygon points="269.95,230.04 272.94,233.03 269.95,236.02 266.96,233.03" fill="#000"/>
<polygon points="338.80,227.10 341.79,230.09 338.80,233.08 335.81,230.09" fill="#000"/>
<polygon points="201.10,261.56 204.65,267.54 197.55,267.54" fill="#000"/>
<polygon points="212.57,238.74 216.13,244.72 209.02,244.72" fill="#000"/>
<polygon points="224.05,230.59 227.60,236.57 220.50,236.57" fill="#000"/>
<polygon points="269.95,211.03 273.50,217.01 266.40,217.01" fill="#000"/>
<polygon points="338.80,208.10 342.35,214.08 335.25,214.08" fill="#000"/>
<circle cx="201.10" cy="265.30" r="3.15" fill="#000"/>
<circle cx="212.57" cy="238.24" r="3.15" fill="#000"/>
<circle cx="224.05" cy="226.18" r="3.15" fill="#000"/>
<circle cx="269.95" cy="203.36" r="3.15" fill="#000"/>
<circle cx="338.80" cy="201.73" r="3.15" fill="#000"/>
<rect x="209.50" y="181.80" width="39.80" height="29.70" fill="#fff"/>
<line x1="210.50" y1="187.30" x2="228.80" y2="187.30" stroke="#000" stroke-width="1.6" />
<polygon points="219.65,185.35 221.60,187.30 219.65,189.25 217.70,187.30" fill="#000"/>
<text x="229.50" y="189.90" font-size="7.4" fill="#222" font-weight="normal" text-anchor="start" stroke="#222" stroke-width="0.15">G285</text>
<line x1="210.50" y1="196.70" x2="228.80" y2="196.70" stroke="#000" stroke-width="1.6" />
<circle cx="219.65" cy="196.70" r="2.40" fill="#000"/>
<text x="229.50" y="199.30" font-size="7.4" fill="#222" font-weight="normal" text-anchor="start" stroke="#222" stroke-width="0.15">E311</text>
<line x1="210.50" y1="206.00" x2="228.80" y2="206.00" stroke="#000" stroke-width="1.6" />
<polygon points="219.65,203.28 222.23,207.63 217.07,207.63" fill="#000"/>
<text x="229.50" y="208.60" font-size="7.4" fill="#222" font-weight="normal" text-anchor="start" stroke="#222" stroke-width="0.15">K316</text>
<rect x="259.50" y="246.60" width="71.80" height="9.30" fill="#fff" stroke="#333" stroke-width="1"/>
<text x="263.50" y="253.60" font-size="6.9" fill="#222" font-weight="normal" text-anchor="start" >K<tspan font-size="4" dy="1.2">d</tspan></text>
<text x="276.70" y="253.60" font-size="7.1" fill="#222" font-weight="normal" text-anchor="start" >21 ± 2 μM</text>
<text x="244.00" y="294.80" font-size="8.8" fill="#222" font-weight="normal" text-anchor="start" stroke="#222" stroke-width="0.1" textLength="68.5" lengthAdjust="spacingAndGlyphs">[peptide]/[eTAFH]</text>
<line x1="374.60" y1="185.70" x2="374.60" y2="268.50" stroke="#b0b0b0" stroke-width="1" />
<line x1="374.60" y1="268.50" x2="516.00" y2="268.50" stroke="#b0b0b0" stroke-width="1" />
<line x1="371.40" y1="268.50" x2="374.60" y2="268.50" stroke="#b0b0b0" stroke-width="1" />
<text x="365.80" y="271.20" font-size="7.8" fill="#222" font-weight="normal" text-anchor="end" stroke="#222" stroke-width="0.15">0</text>
<line x1="371.40" y1="251.94" x2="374.60" y2="251.94" stroke="#b0b0b0" stroke-width="1" />
<text x="365.80" y="254.64" font-size="7.8" fill="#222" font-weight="normal" text-anchor="end" stroke="#222" stroke-width="0.15">0.05</text>
<line x1="371.40" y1="235.38" x2="374.60" y2="235.38" stroke="#b0b0b0" stroke-width="1" />
<text x="365.80" y="238.08" font-size="7.8" fill="#222" font-weight="normal" text-anchor="end" stroke="#222" stroke-width="0.15">0.1</text>
<line x1="371.40" y1="218.82" x2="374.60" y2="218.82" stroke="#b0b0b0" stroke-width="1" />
<text x="365.80" y="221.52" font-size="7.8" fill="#222" font-weight="normal" text-anchor="end" stroke="#222" stroke-width="0.15">0.15</text>
<line x1="371.40" y1="202.26" x2="374.60" y2="202.26" stroke="#b0b0b0" stroke-width="1" />
<text x="365.80" y="204.96" font-size="7.8" fill="#222" font-weight="normal" text-anchor="end" stroke="#222" stroke-width="0.15">0.2</text>
<line x1="371.40" y1="185.70" x2="374.60" y2="185.70" stroke="#b0b0b0" stroke-width="1" />
<text x="365.80" y="188.40" font-size="7.8" fill="#222" font-weight="normal" text-anchor="end" stroke="#222" stroke-width="0.15">0.25</text>
<text x="374.60" y="286.20" font-size="7.8" fill="#222" font-weight="normal" text-anchor="middle" stroke="#222" stroke-width="0.15">0</text>
<text x="394.63" y="286.20" font-size="7.8" fill="#222" font-weight="normal" text-anchor="middle" stroke="#222" stroke-width="0.15">1</text>
<text x="414.66" y="286.20" font-size="7.8" fill="#222" font-weight="normal" text-anchor="middle" stroke="#222" stroke-width="0.15">2</text>
<text x="434.69" y="286.20" font-size="7.8" fill="#222" font-weight="normal" text-anchor="middle" stroke="#222" stroke-width="0.15">3</text>
<text x="454.72" y="286.20" font-size="7.8" fill="#222" font-weight="normal" text-anchor="middle" stroke="#222" stroke-width="0.15">4</text>
<text x="474.75" y="286.20" font-size="7.8" fill="#222" font-weight="normal" text-anchor="middle" stroke="#222" stroke-width="0.15">5</text>
<text x="494.78" y="286.20" font-size="7.8" fill="#222" font-weight="normal" text-anchor="middle" stroke="#222" stroke-width="0.15">6</text>
<text x="514.81" y="286.20" font-size="7.8" fill="#222" font-weight="normal" text-anchor="middle" stroke="#222" stroke-width="0.15">7</text>
<line x1="384.62" y1="268.50" x2="384.62" y2="271.50" stroke="#b0b0b0" stroke-width="1" />
<line x1="404.65" y1="268.50" x2="404.65" y2="271.50" stroke="#b0b0b0" stroke-width="1" />
<line x1="424.68" y1="268.50" x2="424.68" y2="271.50" stroke="#b0b0b0" stroke-width="1" />
<line x1="444.71" y1="268.50" x2="444.71" y2="271.50" stroke="#b0b0b0" stroke-width="1" />
<line x1="464.74" y1="268.50" x2="464.74" y2="271.50" stroke="#b0b0b0" stroke-width="1" />
<line x1="484.77" y1="268.50" x2="484.77" y2="271.50" stroke="#b0b0b0" stroke-width="1" />
<line x1="504.80" y1="268.50" x2="504.80" y2="271.50" stroke="#b0b0b0" stroke-width="1" />
<path d="M374.60,268.50 C376.27,267.12 381.28,262.70 384.62,260.22 C387.95,257.74 386.28,256.85 394.63,253.60 C402.98,250.34 414.66,243.60 434.69,240.68 C454.72,237.75 501.46,236.82 514.81,236.04" fill="none" stroke="#000" stroke-width="1.9"/>
<path d="M374.60,268.50 C376.27,266.46 381.28,259.89 384.62,256.25 C387.95,252.60 386.28,250.84 394.63,246.64 C402.98,242.45 414.66,234.94 434.69,231.07 C454.72,227.21 501.46,224.73 514.81,223.46" fill="none" stroke="#000" stroke-width="1.9"/>
<path d="M374.60,268.50 C376.27,264.36 381.28,250.17 384.62,243.66 C387.95,237.15 386.28,236.15 394.63,229.42 C402.98,222.68 414.66,209.77 434.69,203.25 C454.72,196.74 501.46,192.49 514.81,190.34" fill="none" stroke="#000" stroke-width="1.9"/>
<polygon points="374.60,265.51 377.59,268.50 374.60,271.49 371.61,268.50" fill="#000"/>
<polygon points="384.62,257.23 387.61,260.22 384.62,263.21 381.62,260.22" fill="#000"/>
<polygon points="394.63,250.61 397.62,253.60 394.63,256.59 391.64,253.60" fill="#000"/>
<polygon points="434.69,237.69 437.68,240.68 434.69,243.67 431.70,240.68" fill="#000"/>
<polygon points="514.81,233.05 517.80,236.04 514.81,239.03 511.82,236.04" fill="#000"/>
<polygon points="374.60,264.76 378.15,270.74 371.05,270.74" fill="#000"/>
<polygon points="384.62,252.51 388.17,258.49 381.06,258.49" fill="#000"/>
<polygon points="394.63,242.90 398.18,248.88 391.08,248.88" fill="#000"/>
<polygon points="434.69,227.33 438.24,233.32 431.14,233.32" fill="#000"/>
<polygon points="514.81,219.72 518.36,225.70 511.26,225.70" fill="#000"/>
<circle cx="374.60" cy="268.50" r="3.15" fill="#000"/>
<circle cx="384.62" cy="243.66" r="3.15" fill="#000"/>
<circle cx="394.63" cy="229.42" r="3.15" fill="#000"/>
<circle cx="434.69" cy="203.25" r="3.15" fill="#000"/>
<circle cx="514.81" cy="190.34" r="3.15" fill="#000"/>
<rect x="384.00" y="187.00" width="41.50" height="33.50" fill="#fff"/>
<line x1="385.00" y1="192.50" x2="402.30" y2="192.50" stroke="#000" stroke-width="1.6" />
<polygon points="393.65,190.55 395.60,192.50 393.65,194.45 391.70,192.50" fill="#000"/>
<text x="404.00" y="195.10" font-size="7.4" fill="#222" font-weight="normal" text-anchor="start" stroke="#222" stroke-width="0.15">G285</text>
<line x1="385.00" y1="203.60" x2="402.30" y2="203.60" stroke="#000" stroke-width="1.6" />
<circle cx="393.65" cy="203.60" r="2.40" fill="#000"/>
<text x="404.00" y="206.20" font-size="7.4" fill="#222" font-weight="normal" text-anchor="start" stroke="#222" stroke-width="0.15">E311</text>
<line x1="385.00" y1="215.00" x2="402.30" y2="215.00" stroke="#000" stroke-width="1.6" />
<polygon points="393.65,212.28 396.23,216.63 391.07,216.63" fill="#000"/>
<text x="404.00" y="217.60" font-size="7.4" fill="#222" font-weight="normal" text-anchor="start" stroke="#222" stroke-width="0.15">K316</text>
<rect x="428.30" y="250.80" width="72.70" height="9.50" fill="#fff" stroke="#333" stroke-width="1"/>
<text x="432.30" y="257.80" font-size="6.9" fill="#222" font-weight="normal" text-anchor="start" >K<tspan font-size="4" dy="1.2">d</tspan></text>
<text x="445.50" y="257.80" font-size="7.1" fill="#222" font-weight="normal" text-anchor="start" >75 ± 2 μM</text>
<text x="0.60" y="317.60" font-size="10.6" fill="#000" font-weight="bold" text-anchor="start" >C</text>
<line x1="26.90" y1="312.00" x2="26.90" y2="412.60" stroke="#333" stroke-width="1.4" />
<line x1="26.20" y1="412.50" x2="150.80" y2="412.50" stroke="#333" stroke-width="1.4" />
<line x1="24.40" y1="412.20" x2="26.90" y2="412.20" stroke="#333" stroke-width="1.0" />
<text x="22.60" y="414.10" font-size="5.0" fill="#222" font-weight="bold" text-anchor="end" textLength="10.2" lengthAdjust="spacingAndGlyphs">0.00</text>
<line x1="24.40" y1="392.30" x2="26.90" y2="392.30" stroke="#333" stroke-width="1.0" />
<text x="22.60" y="394.20" font-size="5.0" fill="#222" font-weight="bold" text-anchor="end" textLength="10.2" lengthAdjust="spacingAndGlyphs">0.05</text>
<line x1="24.40" y1="372.40" x2="26.90" y2="372.40" stroke="#333" stroke-width="1.0" />
<text x="22.60" y="374.30" font-size="5.0" fill="#222" font-weight="bold" text-anchor="end" textLength="10.2" lengthAdjust="spacingAndGlyphs">0.10</text>
<line x1="24.40" y1="352.50" x2="26.90" y2="352.50" stroke="#333" stroke-width="1.0" />
<text x="22.60" y="354.40" font-size="5.0" fill="#222" font-weight="bold" text-anchor="end" textLength="10.2" lengthAdjust="spacingAndGlyphs">0.15</text>
<line x1="24.40" y1="332.60" x2="26.90" y2="332.60" stroke="#333" stroke-width="1.0" />
<text x="22.60" y="334.50" font-size="5.0" fill="#222" font-weight="bold" text-anchor="end" textLength="10.2" lengthAdjust="spacingAndGlyphs">0.20</text>
<line x1="24.40" y1="312.70" x2="26.90" y2="312.70" stroke="#333" stroke-width="1.0" />
<text x="22.60" y="314.60" font-size="5.0" fill="#222" font-weight="bold" text-anchor="end" textLength="10.2" lengthAdjust="spacingAndGlyphs">0.25</text>
<line x1="26.10" y1="412.50" x2="26.10" y2="415.00" stroke="#333" stroke-width="1.0" />
<line x1="35.00" y1="412.50" x2="35.00" y2="414.20" stroke="#333" stroke-width="0.8" />
<text x="26.10" y="420.20" font-size="5.0" fill="#222" font-weight="bold" text-anchor="middle" textLength="10.0" lengthAdjust="spacingAndGlyphs">-1.0</text>
<line x1="43.90" y1="412.50" x2="43.90" y2="415.00" stroke="#333" stroke-width="1.0" />
<line x1="52.80" y1="412.50" x2="52.80" y2="414.20" stroke="#333" stroke-width="0.8" />
<text x="43.90" y="420.20" font-size="5.0" fill="#222" font-weight="bold" text-anchor="middle" textLength="10.0" lengthAdjust="spacingAndGlyphs">-0.5</text>
<line x1="61.70" y1="412.50" x2="61.70" y2="415.00" stroke="#333" stroke-width="1.0" />
<line x1="70.60" y1="412.50" x2="70.60" y2="414.20" stroke="#333" stroke-width="0.8" />
<text x="61.70" y="420.20" font-size="5.0" fill="#222" font-weight="bold" text-anchor="middle" textLength="8.0" lengthAdjust="spacingAndGlyphs">0.0</text>
<line x1="79.50" y1="412.50" x2="79.50" y2="415.00" stroke="#333" stroke-width="1.0" />
<line x1="88.40" y1="412.50" x2="88.40" y2="414.20" stroke="#333" stroke-width="0.8" />
<text x="79.50" y="420.20" font-size="5.0" fill="#222" font-weight="bold" text-anchor="middle" textLength="8.0" lengthAdjust="spacingAndGlyphs">0.5</text>
<line x1="97.30" y1="412.50" x2="97.30" y2="415.00" stroke="#333" stroke-width="1.0" />
<line x1="106.20" y1="412.50" x2="106.20" y2="414.20" stroke="#333" stroke-width="0.8" />
<text x="97.30" y="420.20" font-size="5.0" fill="#222" font-weight="bold" text-anchor="middle" textLength="8.0" lengthAdjust="spacingAndGlyphs">1.0</text>
<line x1="115.10" y1="412.50" x2="115.10" y2="415.00" stroke="#333" stroke-width="1.0" />
<line x1="124.00" y1="412.50" x2="124.00" y2="414.20" stroke="#333" stroke-width="0.8" />
<text x="115.10" y="420.20" font-size="5.0" fill="#222" font-weight="bold" text-anchor="middle" textLength="8.0" lengthAdjust="spacingAndGlyphs">1.5</text>
<line x1="132.90" y1="412.50" x2="132.90" y2="415.00" stroke="#333" stroke-width="1.0" />
<line x1="141.80" y1="412.50" x2="141.80" y2="414.20" stroke="#333" stroke-width="0.8" />
<text x="132.90" y="420.20" font-size="5.0" fill="#222" font-weight="bold" text-anchor="middle" textLength="8.0" lengthAdjust="spacingAndGlyphs">2.0</text>
<line x1="150.70" y1="412.50" x2="150.70" y2="415.00" stroke="#333" stroke-width="1.0" />
<text x="150.70" y="420.20" font-size="5.0" fill="#222" font-weight="bold" text-anchor="middle" textLength="8.0" lengthAdjust="spacingAndGlyphs">2.5</text>
<path d="M38.92,401.37 C39.15,401.32 38.32,401.31 40.34,401.06 C42.36,400.80 47.46,400.79 51.02,399.86 C54.58,398.93 58.14,397.27 61.70,395.48 C65.26,393.69 68.82,391.97 72.38,389.12 C75.94,386.26 79.50,382.28 83.06,378.37 C86.62,374.46 90.18,370.14 93.74,365.63 C97.30,361.12 100.86,355.68 104.42,351.31 C107.98,346.93 111.54,343.15 115.10,339.37 C118.66,335.58 122.22,331.61 125.78,328.62 C129.34,325.63 134.68,322.65 136.46,321.46" fill="none" stroke="#d81c24" stroke-width="1.5"/>
<circle cx="40.34" cy="401.06" r="1.75" fill="#201010"/>
<circle cx="51.02" cy="399.86" r="1.75" fill="#201010"/>
<circle cx="61.70" cy="395.48" r="1.75" fill="#201010"/>
<circle cx="72.38" cy="389.12" r="1.75" fill="#201010"/>
<circle cx="83.06" cy="378.37" r="1.75" fill="#201010"/>
<circle cx="93.74" cy="365.63" r="1.75" fill="#201010"/>
<circle cx="104.42" cy="351.31" r="1.75" fill="#201010"/>
<circle cx="115.10" cy="339.37" r="1.75" fill="#201010"/>
<circle cx="125.78" cy="328.62" r="1.75" fill="#201010"/>
<circle cx="136.46" cy="321.46" r="1.75" fill="#201010"/>
<text x="54.70" y="433.00" font-size="8.6" fill="#333" font-weight="normal" text-anchor="start" textLength="60.5" lengthAdjust="spacingAndGlyphs">log [eTAFH] (μM)</text>
<text x="8.60" y="387.60" font-size="8.6" fill="#333" font-weight="normal" text-anchor="start" transform="rotate(-90 8.6 387.6)" stroke="#333" stroke-width="0.15" textLength="39.8" lengthAdjust="spacingAndGlyphs">Anisotropy</text>
<text x="154.00" y="318.40" font-size="11.2" fill="#000" font-weight="bold" text-anchor="start" >D</text>
<line x1="167.80" y1="310.80" x2="513.00" y2="310.80" stroke="#333" stroke-width="0.9" />
<line x1="167.80" y1="322.30" x2="513.00" y2="322.30" stroke="#333" stroke-width="0.9" />
<line x1="167.80" y1="395.10" x2="513.00" y2="395.10" stroke="#333" stroke-width="0.9" />
<line x1="167.80" y1="416.80" x2="513.00" y2="416.80" stroke="#333" stroke-width="0.9" />
<text x="310.80" y="318.80" font-size="7.2" fill="#111" font-weight="bold" text-anchor="start" >Sequence</text>
<text x="480.00" y="318.80" font-size="7.2" fill="#111" font-weight="bold" text-anchor="start" >K<tspan font-size="4.6" dy="1.3">d</tspan></text>
<text x="306.40" y="330.60" font-size="6.5" fill="#222" font-weight="normal" text-anchor="middle" >*</text>
<text x="320.80" y="330.60" font-size="6.5" fill="#222" font-weight="normal" text-anchor="middle" >*</text>
<text x="363.60" y="330.60" font-size="6.5" fill="#222" font-weight="normal" text-anchor="middle" >*</text>
<text x="377.50" y="330.60" font-size="6.5" fill="#222" font-weight="normal" text-anchor="middle" >*</text>
<text x="172.20" y="340.80" font-size="7.3" fill="#1a1a1a" font-weight="bold" text-anchor="start" >HEB</text>
<text x="230.80" y="340.80" font-size="7.0" fill="#111" font-weight="bold" text-anchor="middle" >I</text>
<text x="247.40" y="340.80" font-size="7.0" fill="#111" font-weight="bold" text-anchor="middle" >G</text>
<text x="261.90" y="340.80" font-size="7.0" fill="#111" font-weight="bold" text-anchor="middle" >T</text>
<text x="277.60" y="340.80" font-size="7.0" fill="#111" font-weight="bold" text-anchor="middle" >D</text>
<text x="291.90" y="340.80" font-size="7.0" fill="#111" font-weight="bold" text-anchor="middle" >K</text>
<text x="305.80" y="340.80" font-size="7.0" fill="#e03a2e" font-weight="bold" text-anchor="middle" >E</text>
<text x="321.50" y="340.80" font-size="7.0" fill="#3aa0d8" font-weight="bold" text-anchor="middle" >L</text>
<text x="336.00" y="340.80" font-size="7.0" fill="#111" font-weight="bold" text-anchor="middle" >S</text>
<text x="349.40" y="340.80" font-size="7.0" fill="#111" font-weight="bold" text-anchor="middle" >D</text>
<text x="363.70" y="340.80" font-size="7.0" fill="#3aa0d8" font-weight="bold" text-anchor="middle" >L</text>
<text x="377.90" y="340.80" font-size="7.0" fill="#3aa0d8" font-weight="bold" text-anchor="middle" >L</text>
<text x="393.30" y="340.80" font-size="7.0" fill="#111" font-weight="bold" text-anchor="middle" >D</text>
<text x="408.10" y="340.80" font-size="7.0" fill="#111" font-weight="bold" text-anchor="middle" >F</text>
<text x="422.90" y="340.80" font-size="7.0" fill="#111" font-weight="bold" text-anchor="middle" >S</text>
<text x="439.90" y="340.80" font-size="7.0" fill="#111" font-weight="bold" text-anchor="middle" >A</text>
<text x="454.40" y="340.80" font-size="7.0" fill="#111" font-weight="bold" text-anchor="middle" >M</text>
<text x="500.00" y="340.80" font-size="7.2" fill="#222" font-weight="normal" text-anchor="end" >7 μM</text>
<text x="500.10" y="338.60" font-size="4.8" fill="#222" font-weight="normal" text-anchor="start" >a</text>
<text x="172.20" y="351.90" font-size="7.3" fill="#1a1a1a" font-weight="bold" text-anchor="start" >tHEB</text>
<text x="261.90" y="351.90" font-size="7.0" fill="#111" font-weight="bold" text-anchor="middle" >T</text>
<text x="277.60" y="351.90" font-size="7.0" fill="#111" font-weight="bold" text-anchor="middle" >D</text>
<text x="291.90" y="351.90" font-size="7.0" fill="#111" font-weight="bold" text-anchor="middle" >K</text>
<text x="305.80" y="351.90" font-size="7.0" fill="#e03a2e" font-weight="bold" text-anchor="middle" >E</text>
<text x="321.50" y="351.90" font-size="7.0" fill="#3aa0d8" font-weight="bold" text-anchor="middle" >L</text>
<text x="336.00" y="351.90" font-size="7.0" fill="#111" font-weight="bold" text-anchor="middle" >S</text>
<text x="349.40" y="351.90" font-size="7.0" fill="#111" font-weight="bold" text-anchor="middle" >D</text>
<text x="363.70" y="351.90" font-size="7.0" fill="#3aa0d8" font-weight="bold" text-anchor="middle" >L</text>
<text x="377.90" y="351.90" font-size="7.0" fill="#3aa0d8" font-weight="bold" text-anchor="middle" >L</text>
<text x="393.30" y="351.90" font-size="7.0" fill="#111" font-weight="bold" text-anchor="middle" >D</text>
<text x="500.00" y="351.90" font-size="7.2" fill="#222" font-weight="normal" text-anchor="end" >12  μM</text>
<text x="500.10" y="349.70" font-size="4.8" fill="#222" font-weight="normal" text-anchor="start" >b</text>
<text x="172.20" y="362.50" font-size="7.3" fill="#1a1a1a" font-weight="bold" text-anchor="start" >cMyb</text>
<text x="230.80" y="362.50" font-size="7.0" fill="#111" font-weight="bold" text-anchor="middle" >E</text>
<text x="247.40" y="362.50" font-size="7.0" fill="#111" font-weight="bold" text-anchor="middle" >K</text>
<text x="261.90" y="362.50" font-size="7.0" fill="#111" font-weight="bold" text-anchor="middle" >R</text>
<text x="277.60" y="362.50" font-size="7.0" fill="#111" font-weight="bold" text-anchor="middle" >I</text>
<text x="291.90" y="362.50" font-size="7.0" fill="#111" font-weight="bold" text-anchor="middle" >K</text>
<text x="305.80" y="362.50" font-size="7.0" fill="#e03a2e" font-weight="bold" text-anchor="middle" >E</text>
<text x="321.50" y="362.50" font-size="7.0" fill="#3aa0d8" font-weight="bold" text-anchor="middle" >L</text>
<text x="336.00" y="362.50" font-size="7.0" fill="#111" font-weight="bold" text-anchor="middle" >E</text>
<text x="349.40" y="362.50" font-size="7.0" fill="#111" font-weight="bold" text-anchor="middle" >L</text>
<text x="363.70" y="362.50" font-size="7.0" fill="#3aa0d8" font-weight="bold" text-anchor="middle" >L</text>
<text x="377.90" y="362.50" font-size="7.0" fill="#3aa0d8" font-weight="bold" text-anchor="middle" >L</text>
<text x="393.30" y="362.50" font-size="7.0" fill="#111" font-weight="bold" text-anchor="middle" >M</text>
<text x="408.10" y="362.50" font-size="7.0" fill="#111" font-weight="bold" text-anchor="middle" >S</text>
<text x="422.90" y="362.50" font-size="7.0" fill="#111" font-weight="bold" text-anchor="middle" >T</text>
<text x="439.90" y="362.50" font-size="7.0" fill="#111" font-weight="bold" text-anchor="middle" >E</text>
<text x="454.40" y="362.50" font-size="7.0" fill="#111" font-weight="bold" text-anchor="middle" >N</text>
<text x="500.00" y="362.50" font-size="7.2" fill="#222" font-weight="normal" text-anchor="end" >21 μM</text>
<text x="500.10" y="360.30" font-size="4.8" fill="#222" font-weight="normal" text-anchor="start" >c</text>
<text x="172.20" y="372.60" font-size="7.3" fill="#1a1a1a" font-weight="bold" text-anchor="start" >Nco-R</text>
<text x="230.80" y="372.60" font-size="7.0" fill="#111" font-weight="bold" text-anchor="middle" >A</text>
<text x="247.40" y="372.60" font-size="7.0" fill="#111" font-weight="bold" text-anchor="middle" >R</text>
<text x="261.90" y="372.60" font-size="7.0" fill="#111" font-weight="bold" text-anchor="middle" >S</text>
<text x="277.60" y="372.60" font-size="7.0" fill="#111" font-weight="bold" text-anchor="middle" >E</text>
<text x="291.90" y="372.60" font-size="7.0" fill="#111" font-weight="bold" text-anchor="middle" >H</text>
<text x="305.80" y="372.60" font-size="7.0" fill="#e03a2e" font-weight="bold" text-anchor="middle" >E</text>
<text x="321.50" y="372.60" font-size="7.0" fill="#3aa0d8" font-weight="bold" text-anchor="middle" >I</text>
<text x="336.00" y="372.60" font-size="7.0" fill="#111" font-weight="bold" text-anchor="middle" >S</text>
<text x="349.40" y="372.60" font-size="7.0" fill="#111" font-weight="bold" text-anchor="middle" >E</text>
<text x="363.70" y="372.60" font-size="7.0" fill="#3aa0d8" font-weight="bold" text-anchor="middle" >L</text>
<text x="377.90" y="372.60" font-size="7.0" fill="#3aa0d8" font-weight="bold" text-anchor="middle" >L</text>
<text x="393.30" y="372.60" font-size="7.0" fill="#111" font-weight="bold" text-anchor="middle" >D</text>
<text x="408.10" y="372.60" font-size="7.0" fill="#111" font-weight="bold" text-anchor="middle" >G</text>
<text x="422.90" y="372.60" font-size="7.0" fill="#111" font-weight="bold" text-anchor="middle" >L</text>
<text x="439.90" y="372.60" font-size="7.0" fill="#111" font-weight="bold" text-anchor="middle" >S</text>
<text x="454.40" y="372.60" font-size="7.0" fill="#111" font-weight="bold" text-anchor="middle" >E</text>
<text x="500.00" y="372.60" font-size="7.2" fill="#222" font-weight="normal" text-anchor="end" >75 μM</text>
<text x="500.10" y="370.40" font-size="4.8" fill="#222" font-weight="normal" text-anchor="start" >c</text>
<text x="172.20" y="382.20" font-size="7.3" fill="#1a1a1a" font-weight="bold" text-anchor="start" >STAT6</text>
<text x="230.80" y="382.20" font-size="7.0" fill="#111" font-weight="bold" text-anchor="middle" >L</text>
<text x="247.40" y="382.20" font-size="7.0" fill="#111" font-weight="bold" text-anchor="middle" >P</text>
<text x="261.90" y="382.20" font-size="7.0" fill="#111" font-weight="bold" text-anchor="middle" >P</text>
<text x="277.60" y="382.20" font-size="7.0" fill="#111" font-weight="bold" text-anchor="middle" >T</text>
<text x="291.90" y="382.20" font-size="7.0" fill="#111" font-weight="bold" text-anchor="middle" >E</text>
<text x="305.80" y="382.20" font-size="7.0" fill="#e03a2e" font-weight="bold" text-anchor="middle" >D</text>
<text x="321.50" y="382.20" font-size="7.0" fill="#3aa0d8" font-weight="bold" text-anchor="middle" >L</text>
<text x="336.00" y="382.20" font-size="7.0" fill="#111" font-weight="bold" text-anchor="middle" >T</text>
<text x="349.40" y="382.20" font-size="7.0" fill="#111" font-weight="bold" text-anchor="middle" >K</text>
<text x="363.70" y="382.20" font-size="7.0" fill="#3aa0d8" font-weight="bold" text-anchor="middle" >L</text>
<text x="377.90" y="382.20" font-size="7.0" fill="#3aa0d8" font-weight="bold" text-anchor="middle" >L</text>
<text x="393.30" y="382.20" font-size="7.0" fill="#111" font-weight="bold" text-anchor="middle" >L</text>
<text x="408.10" y="382.20" font-size="7.0" fill="#111" font-weight="bold" text-anchor="middle" >E</text>
<text x="422.90" y="382.20" font-size="7.0" fill="#111" font-weight="bold" text-anchor="middle" >G</text>
<text x="439.90" y="382.20" font-size="7.0" fill="#111" font-weight="bold" text-anchor="middle" >Q</text>
<text x="454.40" y="382.20" font-size="7.0" fill="#111" font-weight="bold" text-anchor="middle" >G</text>
<text x="500.00" y="382.20" font-size="7.2" fill="#222" font-weight="normal" text-anchor="end" >&gt;&gt;200 μM</text>
<text x="500.10" y="380.00" font-size="4.8" fill="#222" font-weight="normal" text-anchor="start" >c</text>
<text x="172.20" y="391.60" font-size="7.3" fill="#1a1a1a" font-weight="bold" text-anchor="start" >CBP</text>
<text x="230.80" y="391.60" font-size="7.0" fill="#111" font-weight="bold" text-anchor="middle" >A</text>
<text x="247.40" y="391.60" font-size="7.0" fill="#111" font-weight="bold" text-anchor="middle" >S</text>
<text x="261.90" y="391.60" font-size="7.0" fill="#111" font-weight="bold" text-anchor="middle" >K</text>
<text x="277.60" y="391.60" font-size="7.0" fill="#111" font-weight="bold" text-anchor="middle" >H</text>
<text x="291.90" y="391.60" font-size="7.0" fill="#111" font-weight="bold" text-anchor="middle" >K</text>
<text x="305.80" y="391.60" font-size="7.0" fill="#f0c030" font-weight="bold" text-anchor="middle" >Q</text>
<text x="321.50" y="391.60" font-size="7.0" fill="#3aa0d8" font-weight="bold" text-anchor="middle" >L</text>
<text x="336.00" y="391.60" font-size="7.0" fill="#111" font-weight="bold" text-anchor="middle" >S</text>
<text x="349.40" y="391.60" font-size="7.0" fill="#111" font-weight="bold" text-anchor="middle" >E</text>
<text x="363.70" y="391.60" font-size="7.0" fill="#3aa0d8" font-weight="bold" text-anchor="middle" >L</text>
<text x="377.90" y="391.60" font-size="7.0" fill="#3aa0d8" font-weight="bold" text-anchor="middle" >L</text>
<text x="393.30" y="391.60" font-size="7.0" fill="#111" font-weight="bold" text-anchor="middle" >R</text>
<text x="408.10" y="391.60" font-size="7.0" fill="#111" font-weight="bold" text-anchor="middle" >G</text>
<text x="422.90" y="391.60" font-size="7.0" fill="#111" font-weight="bold" text-anchor="middle" >G</text>
<text x="439.90" y="391.60" font-size="7.0" fill="#111" font-weight="bold" text-anchor="middle" >S</text>
<text x="454.40" y="391.60" font-size="7.0" fill="#111" font-weight="bold" text-anchor="middle" >G</text>
<text x="480.10" y="391.60" font-size="7.2" fill="#222" font-weight="normal" text-anchor="start" textLength="12.4" lengthAdjust="spacingAndGlyphs">n.d.</text>
<text x="493.20" y="389.40" font-size="4.8" fill="#222" font-weight="normal" text-anchor="start" >d</text>
<text x="172.70" y="403.20" font-size="8.4" fill="#222" font-weight="normal" text-anchor="start" textLength="195.8" lengthAdjust="spacingAndGlyphs">K<tspan font-size="5" dy="1.5">d</tspan><tspan dy="-1.5"> values were &#160;determined by </tspan><tspan font-size="5" dy="-2.2">a</tspan><tspan dy="2.2">ITC, </tspan><tspan font-size="5" dy="-2.2">b</tspan><tspan dy="2.2">FP, and </tspan><tspan font-size="5" dy="-2.2">c</tspan><tspan dy="2.2">NMR.</tspan></text>
<text x="172.70" y="413.20" font-size="8.4" fill="#222" font-weight="normal" text-anchor="start" textLength="71.3" lengthAdjust="spacingAndGlyphs"><tspan font-size="5" dy="-2.2">d</tspan><tspan dy="2.2">n.d.: not detected.</tspan></text></svg>
</body></html>
